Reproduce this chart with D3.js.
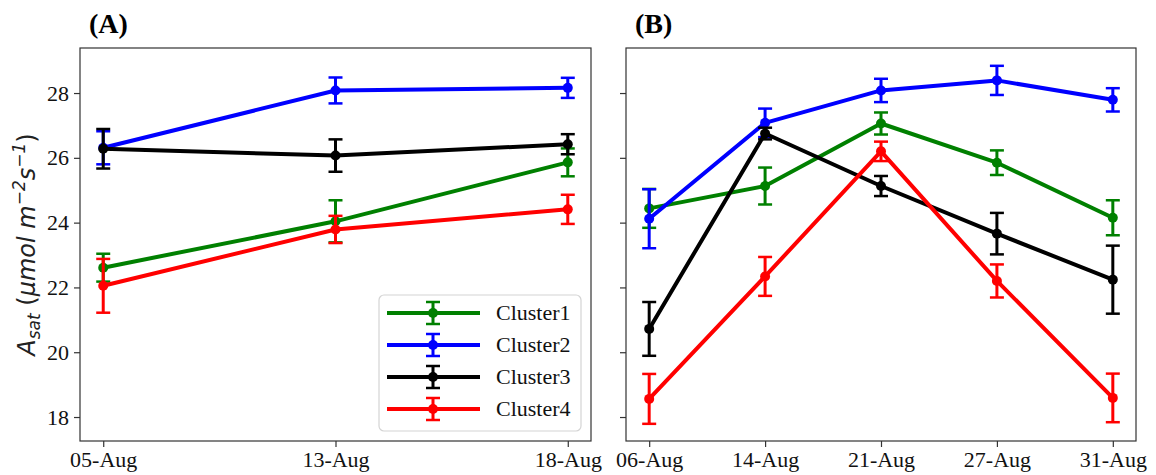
<!DOCTYPE html>
<html lang="en">
	<head>
		<meta charset="utf-8">
		<title>Asat by cluster</title>
		<script type="text/javascript" src="https://cdn.jsdelivr.net/npm/d3@7"></script>
		<style type="text/css">
			body { margin: 0; background: white; }
			.tick text { font-family: "Liberation Serif", "Times New Roman", serif; font-size: 22px; fill: #111; }
			.tick line { stroke: #333; stroke-width: 1.2; }
		</style>
	</head>
	<body>
		<script type="text/javascript">

			//Dates on each panel
			var datesA = ["05-Aug", "13-Aug", "18-Aug"];
			var datesB = ["06-Aug", "14-Aug", "21-Aug", "27-Aug", "31-Aug"];
			var clusters = ["Cluster1", "Cluster2", "Cluster3", "Cluster4"];
			var yTicks = [18, 20, 22, 24, 26, 28];

			//Panel A means and error
			var meanA1 = [22.61, 24.04, 25.86];
			var errA1 = [0.43, 0.65, 0.43];
			var meanA2 = [26.31, 28.08, 28.16];
			var errA2 = [0.51, 0.40, 0.31];
			var meanA3 = [26.28, 26.07, 26.42];
			var errA3 = [0.61, 0.50, 0.31];
			var meanA4 = [22.05, 23.79, 24.41];
			var errA4 = [0.83, 0.42, 0.45];

			//Panel B means and error
			var meanB1 = [24.44, 25.13, 27.06, 25.85, 24.15];
			var errB1 = [0.60, 0.57, 0.34, 0.38, 0.54];
			var meanB2 = [24.12, 27.08, 28.08, 28.39, 27.79];
			var errB2 = [0.91, 0.44, 0.36, 0.45, 0.36];
			var meanB3 = [20.72, 26.75, 25.13, 23.66, 22.24];
			var errB3 = [0.83, 0.18, 0.31, 0.64, 1.05];
			var meanB4 = [18.56, 22.34, 26.20, 22.20, 18.59];
			var errB4 = [0.77, 0.60, 0.30, 0.51, 0.75];

			var colors = ["#008000", "#0000ff", "#000000", "#ff0000"];

			var w = 1156;
			var h = 475;
			var plotTop = 48, plotBottom = 441;
			var serif = "'Liberation Serif', 'Times New Roman', serif";

			var svg = d3.select("body")
						.append("svg")
						.attr("width", w)
						.attr("height", h);

			var yScale = d3.scaleLinear()
							.domain([17.26, 29.39])
							.range([plotBottom, plotTop]);

			var panels = [
				{ title: "(A)", left: 80, right: 591, dates: datesA,
				  means: [meanA1, meanA2, meanA3, meanA4], errs: [errA1, errA2, errA3, errA4], labels: true },
				{ title: "(B)", left: 626, right: 1136, dates: datesB,
				  means: [meanB1, meanB2, meanB3, meanB4], errs: [errB1, errB2, errB3, errB4], labels: false }
			];

			var lineGenerator = d3.line();

			panels.forEach(function(p) {
				var n = p.dates.length;
				var xScale = d3.scaleLinear()
								.domain([-0.05 * (n - 1), (n - 1) * 1.05])
								.range([p.left, p.right]);

				var g = svg.append("g");

				//X axis
				var xAxis = d3.axisBottom(xScale)
								.tickValues(d3.range(n))
								.tickFormat(function(i) { return p.dates[i]; })
								.tickSize(6)
								.tickPadding(4);
				g.append("g")
					.attr("transform", "translate(0," + plotBottom + ")")
					.call(xAxis)
					.call(function(s) { s.select(".domain").remove(); });

				//Y axis
				var yAxis = d3.axisLeft(yScale)
								.tickValues(yTicks)
								.tickSize(6)
								.tickPadding(5)
								.tickFormat(p.labels ? d3.format("d") : "");
				g.append("g")
					.attr("transform", "translate(" + p.left + ",0)")
					.call(yAxis)
					.call(function(s) { s.select(".domain").remove(); });

				//Series
				p.means.forEach(function(m, k) {
					var col = colors[k];
					var sg = g.append("g");
					var pts = m.map(function(v, i) { return [xScale(i), yScale(v)]; });

					sg.append("path")
						.attr("d", lineGenerator(pts))
						.attr("fill", "none")
						.attr("stroke", col)
						.attr("stroke-width", 4)
						.attr("stroke-linejoin", "round");

					m.forEach(function(v, i) {
						var e = p.errs[k][i];
						var cx = xScale(i);
						sg.append("line")
							.attr("x1", cx).attr("x2", cx)
							.attr("y1", yScale(v - e)).attr("y2", yScale(v + e))
							.attr("stroke", col).attr("stroke-width", 3);
						[v - e, v + e].forEach(function(c) {
							sg.append("line")
								.attr("x1", cx - 7).attr("x2", cx + 7)
								.attr("y1", yScale(c)).attr("y2", yScale(c))
								.attr("stroke", col).attr("stroke-width", 2.5);
						});
					});

					sg.selectAll("circle")
						.data(m)
						.enter()
						.append("circle")
						.attr("cx", function(d, i) { return xScale(i); })
						.attr("cy", function(d) { return yScale(d); })
						.attr("r", 5)
						.attr("fill", col);
				});

				//Frame
				g.append("rect")
					.attr("x", p.left)
					.attr("y", plotTop)
					.attr("width", p.right - p.left)
					.attr("height", plotBottom - plotTop)
					.attr("fill", "none")
					.attr("stroke", "#333")
					.attr("stroke-width", 1.2);

				//Panel title
				svg.append("text")
					.text(p.title)
					.attr("x", p.left + 9)
					.attr("y", 33)
					.attr("font-family", serif)
					.attr("font-weight", "bold")
					.attr("font-size", 28)
					.attr("fill", "#000");
			});

			//Legend in panel A
			var legend = svg.append("g");
			legend.append("rect")
				.attr("x", 379)
				.attr("y", 295)
				.attr("width", 202)
				.attr("height", 136)
				.attr("rx", 5)
				.attr("fill", "white")
				.attr("fill-opacity", 0.8)
				.attr("stroke", "#d4d4d4")
				.attr("stroke-width", 1.2);

			clusters.forEach(function(name, k) {
				var cy = 313 + k * 32;
				var col = colors[k];
				legend.append("line")
					.attr("x1", 387).attr("x2", 480)
					.attr("y1", cy).attr("y2", cy)
					.attr("stroke", col).attr("stroke-width", 4);
				legend.append("line")
					.attr("x1", 433).attr("x2", 433)
					.attr("y1", cy - 11).attr("y2", cy + 11)
					.attr("stroke", col).attr("stroke-width", 3);
				[cy - 11, cy + 11].forEach(function(c) {
					legend.append("line")
						.attr("x1", 426).attr("x2", 440)
						.attr("y1", c).attr("y2", c)
						.attr("stroke", col).attr("stroke-width", 2.5);
				});
				legend.append("circle")
					.attr("cx", 433).attr("cy", cy).attr("r", 5).attr("fill", col);
				legend.append("text")
					.text(name)
					.attr("x", 496)
					.attr("y", cy + 7)
					.attr("font-family", serif)
					.attr("font-size", 22)
					.attr("fill", "#111");
			});

			//Y axis label
			var ylab = svg.append("text")
				.attr("transform", "translate(35," + ((plotTop + plotBottom) / 2) + ") rotate(-90)")
				.attr("text-anchor", "middle")
				.attr("font-family", "'DejaVu Sans', sans-serif")
				.attr("font-style", "italic")
				.attr("font-size", 24)
				.attr("fill", "#222");
			ylab.append("tspan").text("A");
			ylab.append("tspan").text("sat").attr("font-size", 17).attr("dy", 5);
			ylab.append("tspan").text(" (").attr("dy", -5).attr("font-style", "normal");
			ylab.append("tspan").text("μmol m");
			ylab.append("tspan").text("−2").attr("font-size", 17).attr("dy", -10);
			ylab.append("tspan").text("s").attr("dy", 10);
			ylab.append("tspan").text("−1").attr("font-size", 17).attr("dy", -10);
			ylab.append("tspan").text(")").attr("dy", 10).attr("font-style", "normal");

		</script>
	</body>
</html>
